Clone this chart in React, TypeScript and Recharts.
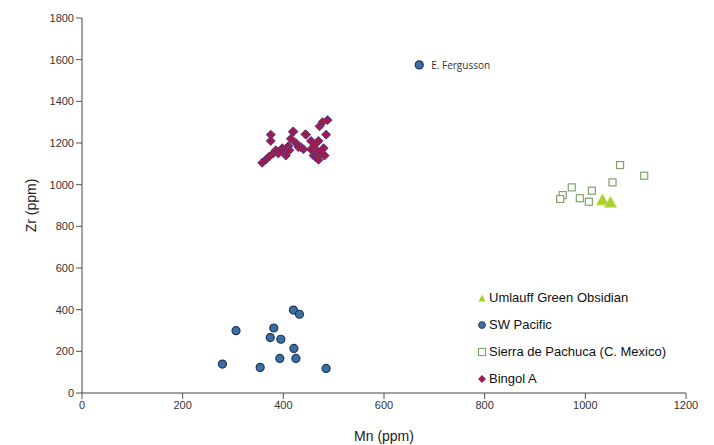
import React from "react";
import {
  ScatterChart,
  Scatter,
  XAxis,
  YAxis,
  LabelList,
} from "recharts";

const umlauffX = [1034, 1050];
const umlauffY = [926, 915];

const swPacificX = [420, 432, 306, 381, 374, 395, 421, 393, 425, 279, 354, 485];
const swPacificY = [398, 378, 299, 312, 266, 258, 214, 166, 166, 139, 123, 118];

const fergussonX = [670];
const fergussonY = [1575];
const fergussonLabel = ["E. Fergusson"];

const pachucaX = [1069, 1117, 1054, 973, 955, 950, 989, 1007, 1013];
const pachucaY = [1094, 1043, 1011, 987, 950, 931, 935, 918, 971];

const bingolX = [
  358, 365, 372, 380, 375, 375, 385, 390, 398, 400, 405, 410, 412, 415, 420, 425,
  435, 440, 445, 455, 460, 462, 465, 468, 470, 472, 475, 478, 480, 482, 485, 488,
  470, 455, 430, 419, 444,
];
const bingolY = [
  1105, 1120, 1135, 1150, 1210, 1240, 1165, 1150, 1175, 1160, 1140, 1185, 1165, 1220,
  1255, 1200, 1180, 1170, 1240, 1170, 1140, 1190, 1130, 1160, 1210, 1280, 1150, 1300,
  1175, 1140, 1240, 1310, 1120, 1210, 1180, 1254, 1242,
];

const xTicks = [0, 200, 400, 600, 800, 1000, 1200];
const yTicks = [0, 200, 400, 600, 800, 1000, 1200, 1400, 1600, 1800];

const legendNames = [
  "Umlauff Green Obsidian",
  "SW Pacific",
  "Sierra de Pachuca (C. Mexico)",
  "Bingol A",
];

const toPts = (xs: number[], ys: number[]) => xs.map((x, i) => ({ x, y: ys[i] }));

const umlauff = toPts(umlauffX, umlauffY);
const swPacific = toPts(swPacificX, swPacificY);
const fergusson = fergussonX.map((x, i) => ({ x, y: fergussonY[i], label: fergussonLabel[i] }));
const pachuca = toPts(pachucaX, pachucaY);
const bingol = toPts(bingolX, bingolY);

const C_TRI = "#a9cf2a";
const C_CIRC = "#3a6ea5";
const C_CIRC_S = "#1d3550";
const C_SQ = "#7ea36a";
const C_DIA = "#9b1d4c";
const C_DIA_S = "#5a3a8e";

const FONT = "Liberation Sans, Arial, sans-serif";

const Tri = (p: any) => {
  const { cx, cy } = p;
  if (cx == null || cy == null) return null;
  const s = 6;
  return (
    <polygon
      points={`${cx},${cy - s} ${cx + s},${cy + s * 0.8} ${cx - s},${cy + s * 0.8}`}
      fill={C_TRI}
      stroke="#c8e060"
      strokeWidth={1}
    />
  );
};

const Circ = (p: any) => {
  const { cx, cy } = p;
  if (cx == null || cy == null) return null;
  return <circle cx={cx} cy={cy} r={4} fill={C_CIRC} stroke={C_CIRC_S} strokeWidth={1.2} />;
};

const Sq = (p: any) => {
  const { cx, cy } = p;
  if (cx == null || cy == null) return null;
  return (
    <rect x={cx - 3.5} y={cy - 3.5} width={7} height={7} fill="#ffffff" stroke={C_SQ} strokeWidth={1.2} />
  );
};

const Dia = (p: any) => {
  const { cx, cy } = p;
  if (cx == null || cy == null) return null;
  const s = 4.5;
  return (
    <polygon
      points={`${cx},${cy - s} ${cx + s},${cy} ${cx},${cy + s} ${cx - s},${cy}`}
      fill={C_DIA}
      stroke={C_DIA_S}
      strokeWidth={1}
    />
  );
};

const LegendIcon = ({ i }: { i: number }) => {
  if (i === 0) return <polygon points="5,1.5 8.5,8.5 1.5,8.5" fill={C_TRI} />;
  if (i === 1) return <circle cx={5} cy={5} r={3.5} fill={C_CIRC} stroke={C_CIRC_S} strokeWidth={0.8} />;
  if (i === 2) return <rect x={1.5} y={1.5} width={7} height={7} fill="#fff" stroke={C_SQ} strokeWidth={1} />;
  return <polygon points="5,1 9,5 5,9 1,5" fill={C_DIA} />;
};

const LegendBox = () => (
  <div
    style={{
      position: "absolute",
      left: 469,
      top: 276,
      fontFamily: FONT,
      fontSize: 13,
      color: "#111",
      lineHeight: "27px",
    }}
  >
    {legendNames.map((n, i) => (
      <div key={n} style={{ display: "flex", alignItems: "center", height: 27 }}>
        <svg width={10} height={10} style={{ marginRight: 2 }}>
          <LegendIcon i={i} />
        </svg>
        <span>{n}</span>
      </div>
    ))}
  </div>
);

const FergLabel = (p: any) => {
  const { x, y, width, height, value } = p;
  return (
    <text
      x={x + width / 2 + 12}
      y={y + height / 2 + 4}
      fontSize={10}
      fill="#333"
      fontFamily="Open Sans, Liberation Sans, sans-serif"
    >
      {value}
    </text>
  );
};

const tickStyle = { fontSize: 11, fill: "#333", fontFamily: FONT };

export default function App() {
  return (
    <div style={{ position: "relative", width: 706, height: 437 }}>
      <ScatterChart width={706} height={437} margin={{ top: 10, right: 28, bottom: 22, left: 0 }}>
        <XAxis
          type="number"
          dataKey="x"
          domain={[0, 1200]}
          ticks={xTicks}
          tick={tickStyle}
          tickLine={{ stroke: "#555" }}
          axisLine={{ stroke: "#444" }}
          height={30}
          label={{
            value: "Mn (ppm)",
            position: "insideBottom",
            offset: -18,
            style: { fontSize: 14, fill: "#222", fontFamily: FONT },
          }}
        />
        <XAxis
          xAxisId="top"
          orientation="top"
          type="number"
          dataKey="x"
          domain={[0, 1200]}
          tick={false}
          tickLine={false}
          axisLine={{ stroke: "#777" }}
          height={0}
        />
        <YAxis
          type="number"
          dataKey="y"
          domain={[0, 1800]}
          ticks={yTicks}
          tick={tickStyle}
          tickLine={{ stroke: "#555" }}
          axisLine={{ stroke: "#444" }}
          width={74}
          label={{
            value: "Zr (ppm)",
            angle: -90,
            position: "insideLeft",
            offset: 23,
            style: { fontSize: 14, fill: "#222", fontFamily: FONT, textAnchor: "middle" },
          }}
        />
        <YAxis
          yAxisId="right"
          orientation="right"
          type="number"
          dataKey="y"
          domain={[0, 1800]}
          tick={false}
          tickLine={false}
          axisLine={{ stroke: "#777" }}
          width={0}
        />
        <Scatter name="Umlauff Green Obsidian" data={umlauff} shape={Tri} isAnimationActive={false} />
        <Scatter name="SW Pacific" data={swPacific} shape={Circ} isAnimationActive={false} />
        <Scatter name="E. Fergusson" data={fergusson} shape={Circ} isAnimationActive={false}>
          <LabelList dataKey="label" content={<FergLabel />} />
        </Scatter>
        <Scatter name="Sierra de Pachuca (C. Mexico)" data={pachuca} shape={Sq} isAnimationActive={false} />
        <Scatter name="Bingol A" data={bingol} shape={Dia} isAnimationActive={false} />
      </ScatterChart>
      <LegendBox />
    </div>
  );
}
